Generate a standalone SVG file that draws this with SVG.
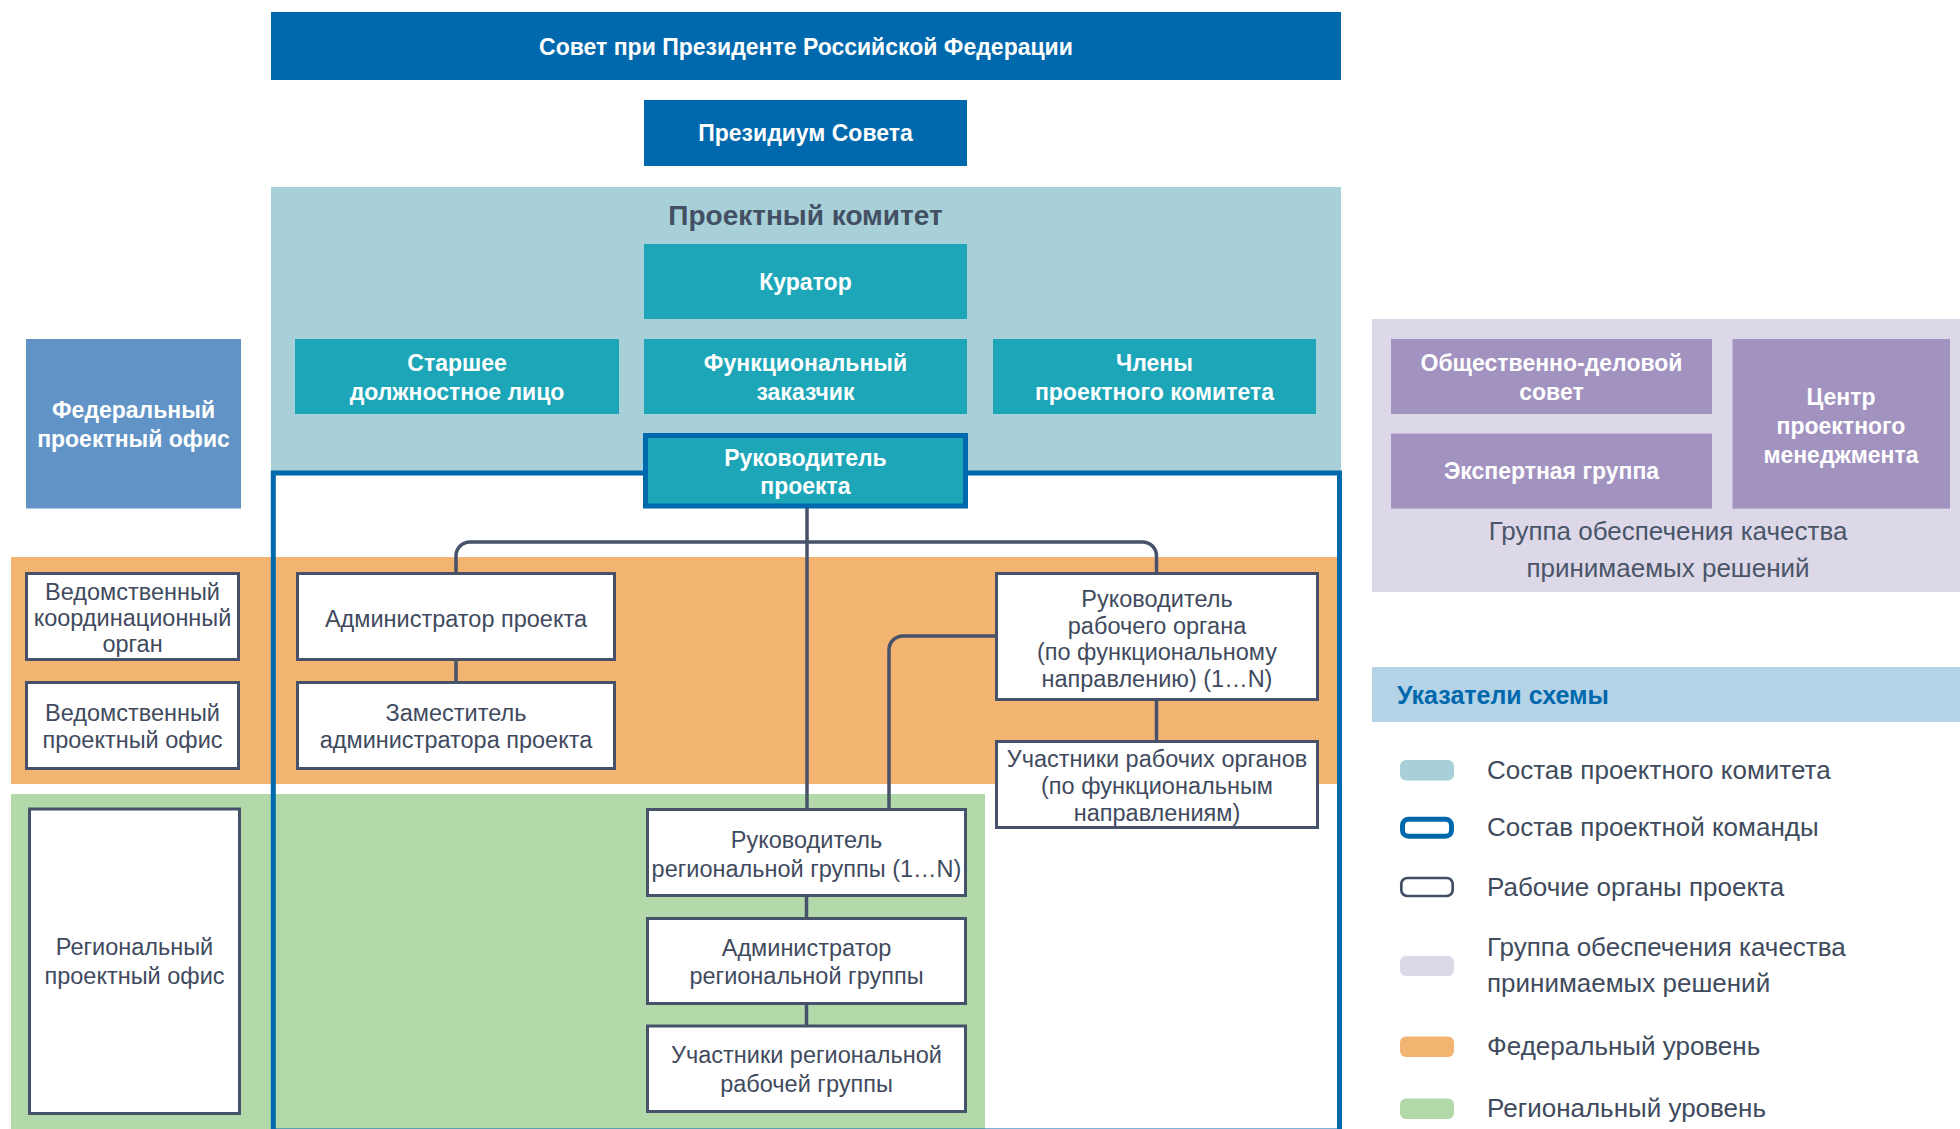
<svg xmlns="http://www.w3.org/2000/svg" width="1960" height="1129" viewBox="0 0 1960 1129">
<style>
text{font-family:"Liberation Sans",Arial,sans-serif;text-anchor:middle}
.wb{fill:#ffffff;font-weight:bold;font-size:23px}
.dk{fill:#3f4a5e;font-size:23.5px}
.lg{fill:#404b5d;font-size:26px;text-anchor:start}
.grp{fill:#4a5568;font-size:26px}
.blue{fill:#0068ac}
.teal{fill:#1da6b8}
.purp{fill:#a192c0}
.wbox{fill:#ffffff;stroke:#455269;stroke-width:3}
.conn{fill:none;stroke:#455269;stroke-width:3.5}
</style>
<rect width="1960" height="1129" fill="#ffffff"/>
<g id="zones">
<rect x="271" y="187" width="1070" height="286" fill="#a7d0d9"/>
<rect x="11" y="557" width="1326" height="227" fill="#f3b472"/>
<rect x="11" y="794" width="974" height="340" fill="#b3d9aa"/>
<rect x="1372" y="319" width="588" height="273" fill="#dcd8e8"/>
<rect x="273.3" y="473" width="1066.2" height="658" fill="none" stroke="#0068ac" stroke-width="5"/>
</g>
<g id="council">
<rect class="blue" x="271" y="12" width="1070" height="68"/>
<text class="wb" x="806" y="55" font-size="24">Совет при Президенте Российской Федерации</text>
</g>
<g id="presidium">
<rect class="blue" x="644" y="100" width="323" height="66"/>
<text class="wb" x="805.5" y="141">Президиум Совета</text>
</g>
<g id="committee-title">
<text x="805.5" y="225" font-size="28" font-weight="bold" fill="#434f63">Проектный комитет</text>
</g>
<g id="curator">
<rect class="teal" x="644" y="244" width="323" height="75"/>
<text class="wb" x="805.5" y="290">Куратор</text>
</g>
<g id="senior">
<rect class="teal" x="295" y="339" width="324" height="75"/>
<text class="wb" x="457" y="371">Старшее</text>
<text class="wb" x="457" y="400">должностное лицо</text>
</g>
<g id="customer">
<rect class="teal" x="644" y="339" width="323" height="75"/>
<text class="wb" x="805.5" y="371">Функциональный</text>
<text class="wb" x="805.5" y="400">заказчик</text>
</g>
<g id="members">
<rect class="teal" x="993" y="339" width="323" height="75"/>
<text class="wb" x="1154.5" y="371">Члены</text>
<text class="wb" x="1154.5" y="400">проектного комитета</text>
</g>
<g id="project-head">
<rect class="teal" x="645.5" y="435.5" width="320" height="70.5" stroke="#0068ac" stroke-width="5"/>
<text class="wb" x="805.5" y="466">Руководитель</text>
<text class="wb" x="805.5" y="494">проекта</text>
</g>
<g id="federal-office">
<rect x="26" y="339" width="215" height="169.5" fill="#6193c6"/>
<text class="wb" x="133.5" y="418">Федеральный</text>
<text class="wb" x="133.5" y="447">проектный офис</text>
</g>
<g id="public-council">
<rect class="purp" x="1391" y="339" width="321" height="75"/>
<text class="wb" x="1551.5" y="371">Общественно-деловой</text>
<text class="wb" x="1551.5" y="400">совет</text>
</g>
<g id="expert-group">
<rect class="purp" x="1391" y="433.6" width="321" height="75"/>
<text class="wb" x="1551.5" y="479">Экспертная группа</text>
</g>
<g id="pm-center">
<rect class="purp" x="1732.5" y="339" width="217.5" height="169.6"/>
<text class="wb" x="1841" y="405">Центр</text>
<text class="wb" x="1841" y="434">проектного</text>
<text class="wb" x="1841" y="463">менеджмента</text>
</g>
<g id="quality-group-label">
<text class="grp" x="1668" y="540">Группа обеспечения качества</text>
<text class="grp" x="1668" y="577">принимаемых решений</text>
</g>
<g id="connectors">
<path class="conn" d="M807,508 V808"/>
<path class="conn" d="M456,572 V556 A14,14 0 0 1 470,542 H1142.5 A14,14 0 0 1 1156.5,556 V572"/>
<path class="conn" d="M996,636 H903 A14,14 0 0 0 889,650 V808"/>
<path class="conn" d="M456,661 V681"/>
<path class="conn" d="M1156.5,701 V740"/>
<path class="conn" d="M806.5,897 V917"/>
<path class="conn" d="M806.5,1005 V1025"/>
</g>
<g id="dept-coord">
<rect class="wbox" x="26.5" y="573.5" width="212" height="86"/>
<text class="dk" x="132.5" y="600">Ведомственный</text>
<text class="dk" x="132.5" y="626">координационный</text>
<text class="dk" x="132.5" y="652">орган</text>
</g>
<g id="dept-office">
<rect class="wbox" x="26.5" y="682.5" width="212" height="86"/>
<text class="dk" x="132.5" y="721">Ведомственный</text>
<text class="dk" x="132.5" y="748">проектный офис</text>
</g>
<g id="regional-office">
<rect class="wbox" x="29.5" y="809" width="210" height="304.5"/>
<text class="dk" x="134.5" y="955">Региональный</text>
<text class="dk" x="134.5" y="984">проектный офис</text>
</g>
<g id="project-admin">
<rect class="wbox" x="297.5" y="573.5" width="317" height="86"/>
<text class="dk" x="456" y="627">Администратор проекта</text>
</g>
<g id="deputy-admin">
<rect class="wbox" x="297.5" y="682.5" width="317" height="86"/>
<text class="dk" x="456" y="721">Заместитель</text>
<text class="dk" x="456" y="748">администратора проекта</text>
</g>
<g id="regional-head">
<rect class="wbox" x="647.5" y="809.5" width="318" height="86"/>
<text class="dk" x="806.5" y="848">Руководитель</text>
<text class="dk" x="806.5" y="877">региональной группы (1…N)</text>
</g>
<g id="regional-admin">
<rect class="wbox" x="647.5" y="918.5" width="318" height="85"/>
<text class="dk" x="806.5" y="956">Администратор</text>
<text class="dk" x="806.5" y="984">региональной группы</text>
</g>
<g id="regional-members">
<rect class="wbox" x="647.5" y="1026" width="318" height="85.5"/>
<text class="dk" x="806.5" y="1063">Участники региональной</text>
<text class="dk" x="806.5" y="1092">рабочей группы</text>
</g>
<g id="wg-head">
<rect class="wbox" x="996.5" y="573.5" width="321" height="126"/>
<text class="dk" x="1157" y="607">Руководитель</text>
<text class="dk" x="1157" y="633.5">рабочего органа</text>
<text class="dk" x="1157" y="660">(по функциональному</text>
<text class="dk" x="1157" y="686.5">направлению) (1…N)</text>
</g>
<g id="wg-members">
<rect class="wbox" x="996.5" y="741.5" width="321" height="86"/>
<text class="dk" x="1157" y="767">Участники рабочих органов</text>
<text class="dk" x="1157" y="794">(по функциональным</text>
<text class="dk" x="1157" y="821">направлениям)</text>
</g>
<g id="legend">
<rect x="1372" y="667" width="588" height="55" fill="#b4d3e6"/>
<text x="1397" y="704" font-size="25" font-weight="bold" fill="#0068ac" style="text-anchor:start">Указатели схемы</text>
<rect x="1400" y="760" width="54" height="20.5" rx="6" fill="#a7d0d9"/>
<text class="lg" x="1487" y="779">Состав проектного комитета</text>
<rect x="1402.5" y="819.2" width="49" height="17" rx="6" fill="#ffffff" stroke="#0068ac" stroke-width="5"/>
<text class="lg" x="1487" y="836">Состав проектной команды</text>
<rect x="1401.3" y="878" width="51.4" height="18" rx="6" fill="#ffffff" stroke="#414e66" stroke-width="2.7"/>
<text class="lg" x="1487" y="896">Рабочие органы проекта</text>
<rect x="1400" y="956" width="54" height="20" rx="6" fill="#dcd8e8"/>
<text class="lg" x="1487" y="956">Группа обеспечения качества</text>
<text class="lg" x="1487" y="992">принимаемых решений</text>
<rect x="1400" y="1036.5" width="54" height="20.5" rx="6" fill="#f3b472"/>
<text class="lg" x="1487" y="1055">Федеральный уровень</text>
<rect x="1400" y="1098.5" width="54" height="20.5" rx="6" fill="#b3d9aa"/>
<text class="lg" x="1487" y="1117">Региональный уровень</text>
</g>
</svg>
